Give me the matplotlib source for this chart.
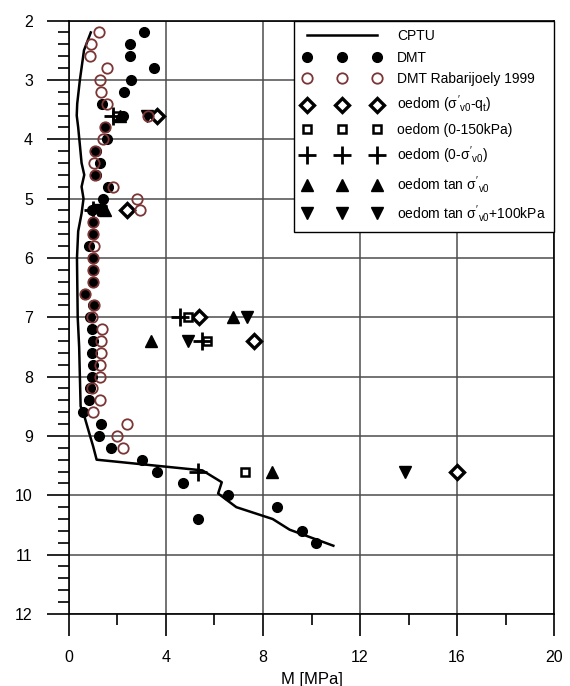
import matplotlib
matplotlib.use("Agg")
import matplotlib.pyplot as plt
from matplotlib.ticker import MultipleLocator
import numpy as np

plt.rcParams['font.family'] = ['Liberation Sans', 'DejaVu Sans']
plt.rcParams['mathtext.fontset'] = 'custom'
plt.rcParams['mathtext.rm'] = 'Liberation Sans'
plt.rcParams['mathtext.it'] = 'Liberation Sans'
plt.rcParams['mathtext.bf'] = 'Liberation Sans:bold'

# CPTU profile (M [MPa], depth [m])
cptu_M = [0.90, 0.62, 0.45, 0.34, 0.32, 0.38, 0.45, 0.52, 0.63, 0.52, 0.60, 0.52, 0.38,
          0.33, 0.36, 0.42, 0.48, 0.60, 0.87, 1.00, 1.14, 5.50, 6.30, 6.15, 6.90, 8.40,
          9.10, 10.90]
cptu_d = [2.2, 2.5, 3.0, 3.4, 3.6, 3.8, 4.1, 4.4, 4.6, 4.8, 5.0, 5.25, 5.55,
          6.0, 7.0, 7.5, 8.5, 8.62, 9.0, 9.18, 9.4, 9.58, 9.78, 9.97, 10.2, 10.4,
          10.58, 10.85]

# DMT
dmt_d = [2.2, 2.4, 2.6, 2.8, 3.0, 3.2, 3.4, 3.6, 3.8, 4.0, 4.2, 4.4, 4.6, 4.8, 5.0,
         5.2, 5.4, 5.6, 5.8, 6.0, 6.2, 6.4, 6.6, 6.8, 7.0, 7.2, 7.4, 7.6, 7.8, 8.0,
         8.2, 8.4, 8.6, 8.8, 9.0, 9.2, 9.4, 9.6, 9.8, 10.0, 10.2, 10.4, 10.6, 10.8]
dmt_M = [3.09, 2.52, 2.52, 3.52, 2.55, 2.27, 1.35, 2.24, 1.48, 1.55, 1.11, 1.28, 1.11,
         1.62, 1.42, 0.94, 1.00, 1.00, 0.84, 1.00, 1.00, 1.00, 0.67, 0.98, 0.87, 0.96,
         1.00, 0.96, 1.00, 0.96, 0.87, 0.84, 0.59, 1.32, 1.25, 1.72, 3.00, 3.62, 4.69,
         6.54, 8.59, 5.31, 9.60, 10.20]

# DMT Rabarijoely 1999
rab_d = [2.2, 2.4, 2.6, 2.8, 3.0, 3.2, 3.4, 3.6, 3.8, 4.0, 4.2, 4.4, 4.6, 4.8, 5.0,
         5.2, 5.4, 5.6, 5.8, 6.0, 6.2, 6.4, 6.6, 6.8, 7.0, 7.2, 7.4, 7.6, 7.8, 8.0,
         8.2, 8.4, 8.6, 8.8, 9.0, 9.2]
rab_M = [1.25, 0.91, 0.87, 1.55, 1.28, 1.33, 1.55, 3.27, 1.48, 1.42, 1.07, 1.03, 1.07,
         1.80, 2.79, 2.93, 1.00, 1.00, 1.04, 1.00, 1.00, 1.00, 0.67, 1.04, 0.96, 1.35,
         1.32, 1.32, 1.28, 1.28, 0.94, 1.30, 0.98, 2.41, 1.97, 2.24]

# oedometer results
oed_d = [3.6, 5.2, 7.0, 7.4, 9.6]
oed_qt_M = [3.62, 2.38, 5.37, 7.62, 16.0]
oed_150_M = [2.00, 1.35, 4.92, 5.68, 7.26]
oed_sv0_M = [1.80, 1.00, 4.58, 5.47, 5.31]
oed_tan_M = [2.10, 1.50, 6.78, 3.38, 8.36]
oed_tan100_M = [3.20, 1.20, 7.34, 4.92, 13.85]

fig = plt.figure(figsize=(5.7, 6.86), dpi=100)
ax = fig.add_axes([0.121, 0.105, 0.851, 0.865])

ax.plot(cptu_M, cptu_d, color='black', lw=1.8, label='CPTU', zorder=3)
ax.plot(dmt_M, dmt_d, 'o', color='black', ms=7, ls='none', label='DMT', zorder=4)
ax.plot(rab_M, rab_d, 'o', mfc='none', mec='#7b3535', mew=1.3, ms=7.5, ls='none',
        label='DMT Rabarijoely 1999', zorder=5)
ax.plot(oed_qt_M, oed_d, 'D', mfc='white', mec='black', mew=2.4, ms=7, ls='none',
        label="oedom ($\\sigma'_{\\mathrm{v0}}$-q$_{\\mathrm{t}}$)", zorder=4)
ax.plot(oed_150_M, oed_d, 's', mfc='white', mec='black', mew=1.8, ms=6, ls='none',
        label='oedom (0-150kPa)', zorder=4)
ax.plot(oed_sv0_M, oed_d, '+', color='black', mew=2, ms=13, ls='none',
        label="oedom (0-$\\sigma'_{\\mathrm{v0}}$)", zorder=4)
ax.plot(oed_tan_M, oed_d, '^', color='black', ms=8, ls='none',
        label="oedom tan $\\sigma'_{\\mathrm{v0}}$", zorder=4)
ax.plot(oed_tan100_M, oed_d, 'v', color='black', ms=8, ls='none',
        label="oedom tan $\\sigma'_{\\mathrm{v0}}$+100kPa", zorder=4)

ax.set_xlim(0, 20)
ax.set_ylim(12, 2)
ax.xaxis.set_major_locator(MultipleLocator(4))
ax.xaxis.set_minor_locator(MultipleLocator(2))
ax.yaxis.set_major_locator(MultipleLocator(1))
ax.yaxis.set_minor_locator(MultipleLocator(0.2))
ax.tick_params(which='major', direction='out', length=16, width=1.2, labelsize=11.5, pad=10)
ax.tick_params(which='minor', direction='out', length=8, width=1.2)
ax.grid(True, which='major', color='0.3', lw=1.1)
for s in ax.spines.values():
    s.set_linewidth(1.2)
ax.set_xlabel('M [MPa]', fontsize=12, labelpad=5)

leg = ax.legend(loc='upper right', numpoints=3, handlelength=5.7, handletextpad=1.1,
                borderaxespad=0, fancybox=False, framealpha=1, edgecolor='black',
                fontsize=10, labelspacing=0.55, borderpad=0.6)
leg.get_frame().set_linewidth(1.0)

fig.savefig('out.png', dpi=100)
